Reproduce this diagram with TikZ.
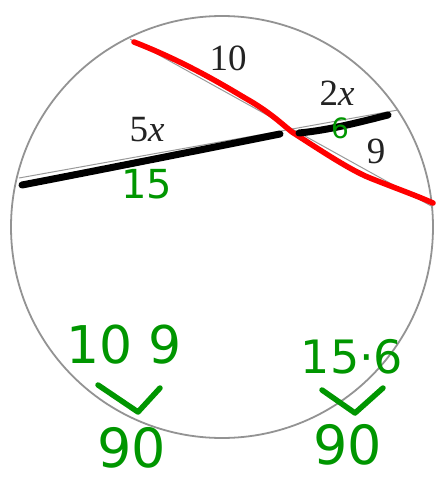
\documentclass[tikz,border=0pt]{standalone}
\usepackage{fontspec}
\setmainfont{Liberation Serif}
\newfontfamily\handfont{DejaVu Sans}
\definecolor{hgreen}{RGB}{0,150,0}
\definecolor{hred}{RGB}{255,0,0}
\definecolor{ink}{RGB}{35,35,35}
\begin{document}
\begin{tikzpicture}[x=1pt,y=-1pt,
  printed/.style={text=ink,font=\fontsize{37}{37}\selectfont,inner sep=0pt},
  hand/.style={text=hgreen,inner sep=0pt},
  chord/.style={draw=gray!80,line width=1pt},
  redpen/.style={draw=hred,line width=5.5pt,line cap=round,line join=round},
  blackpen/.style={draw=black,line width=7pt,line cap=round,line join=round},
  greenpen/.style={draw=hgreen,line width=5.5pt,line cap=round,line join=round}]
\useasboundingbox (0,0) rectangle (437,480);
% circle
\node (O) at (222,227) {};
\draw[draw=gray!85,line width=1.8pt] (O.center) circle[radius=211];
% chord end points on circle
\coordinate (A) at (130,39);
\coordinate (B) at (433,207);
\coordinate (C) at (19,178);
\coordinate (D) at (398,110);
\draw[chord] (A) -- (B);
\draw[chord] (C) -- (D);
% red pen over the secant
\coordinate (R1) at (134,42);
\coordinate (R2) at (433,203);
\draw[redpen] (R1) .. controls (180,60) and (215,80) .. (245,98)
  .. controls (270,112) and (283,125) .. (292,132)
  .. controls (320,150) and (350,170) .. (370,178)
  .. controls (395,188) and (415,195) .. (R2);
% black pen strokes
\coordinate (K1) at (22,185);
\coordinate (K2) at (280,134);
\coordinate (K3) at (299,133);
\coordinate (K4) at (388,115);
\draw[blackpen] (K1) .. controls (100,170) and (200,150) .. (K2);
\draw[blackpen] (K3) .. controls (330,130) and (360,122) .. (K4);
% printed labels
\node[printed] (t10) at (228,58) {10};
\node[printed] (t2x) at (337,93) {2{\itshape x}};
\node[printed] (t5x) at (147,130) {5{\itshape x}};
\node[printed] (t9) at (376,151) {9};
% green handwriting
\node[hand,font=\handfont\fontsize{40}{40}\selectfont] (g15) at (147,184) {15};
\node[hand,font=\handfont\fontsize{28}{28}\selectfont] (g6) at (340,128) {6};
\node[hand,font=\handfont\fontsize{52}{52}\selectfont] (g109) at (124,345) {10 9};
\node[hand,font=\handfont\fontsize{46}{46}\selectfont] (g156) at (352,357) {15·6};
\node[hand,font=\handfont\fontsize{54}{54}\selectfont] (g90a) at (132,448) {90};
\node[hand,font=\handfont\fontsize{54}{54}\selectfont] (g90b) at (348,445) {90};
% check marks
\coordinate (V1a) at (98,385);
\coordinate (V1b) at (138,412);
\coordinate (V1c) at (160,388);
\draw[greenpen] (V1a) -- (V1b) -- (V1c);
\coordinate (V2a) at (322,390);
\coordinate (V2b) at (355,413);
\coordinate (V2c) at (383,388);
\draw[greenpen] (V2a) -- (V2b) -- (V2c);
\end{tikzpicture}
\end{document}
